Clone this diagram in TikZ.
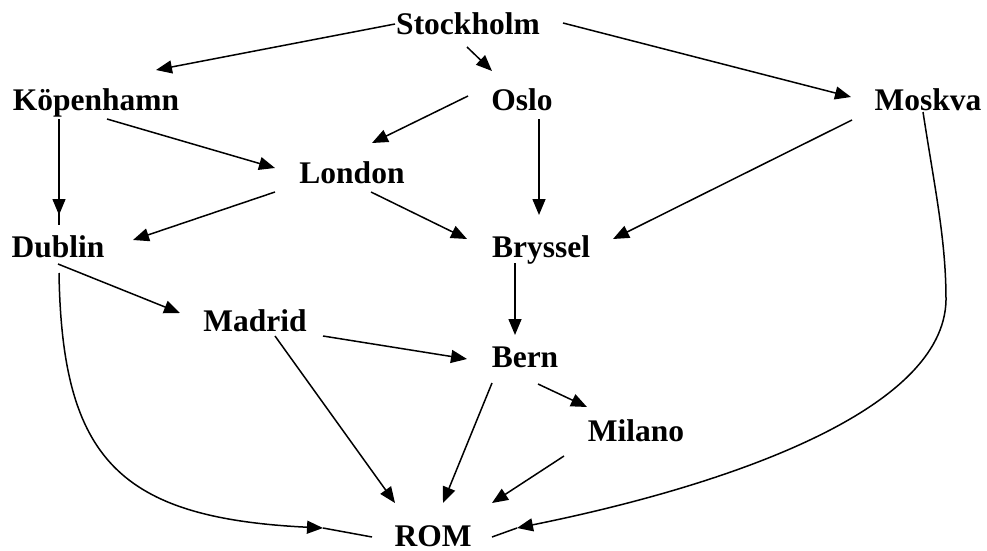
\documentclass[tikz,border=0pt]{standalone}
\usepackage{fontspec}
\setmainfont{Liberation Serif}
\usetikzlibrary{arrows.meta}
\begin{document}
\begin{tikzpicture}[x=1pt,y=-1pt,
  city/.style={inner sep=0pt,anchor=base,font=\fontsize{31.5}{32}\selectfont\bfseries},
  edge/.style={line width=1.5pt},
  arr/.style={edge,-{Triangle[length=16pt,width=13pt]}}]
\useasboundingbox (0,0) rectangle (987,551);
\node[city] (sto) at (468,35) {Stockholm};
\node[city] (kop) at (96,110) {Köpenhamn};
\node[city] (osl) at (522,110) {Oslo};
\node[city] (mos) at (928,110) {Moskva};
\node[city] (lon) at (352,183) {London};
\node[city] (dub) at (58,257) {Dublin};
\node[city] (bry) at (541,257) {Bryssel};
\node[city] (mad) at (255,331) {Madrid};
\node[city] (ber) at (525,367) {Bern};
\node[city] (mil) at (636,441) {Milano};
\node[city] (rom) at (433,546) {ROM};
% straight connectors
\draw[arr] ([shift={(-73,-11)}]sto.base) -- ([shift={(60,-40)}]kop.base);
\draw[arr] ([shift={(-1,12)}]sto.base) -- ([shift={(-30,-39)}]osl.base);
\draw[arr] ([shift={(95,-12)}]sto.base) -- ([shift={(-77,-13)}]mos.base);
\draw[arr] ([shift={(-54,-14)}]osl.base) -- ([shift={(20,-40)}]lon.base);
\draw[arr] ([shift={(11,9)}]kop.base) -- ([shift={(-77,-15)}]lon.base);
\draw[edge] ([shift={(-37,9)}]kop.base) -- ([shift={(1,-32)}]dub.base);
\draw[arr] ([shift={(-37,9)}]kop.base) -- ([shift={(1,-42)}]dub.base);
\draw[arr] ([shift={(-77,9)}]lon.base) -- ([shift={(75,-17)}]dub.base);
\draw[arr] ([shift={(19,9)}]lon.base) -- ([shift={(-74,-18)}]bry.base);
\draw[arr] ([shift={(17,9)}]osl.base) -- ([shift={(-2,-42)}]bry.base);
\draw[arr] ([shift={(-76,10)}]mos.base) -- ([shift={(72,-18)}]bry.base);
\draw[arr] ([shift={(-26,6)}]bry.base) -- ([shift={(-10,-32)}]ber.base);
\draw[arr] ([shift={(0,7)}]dub.base) -- ([shift={(-75,-18)}]mad.base);
\draw[arr] ([shift={(68,5)}]mad.base) -- ([shift={(-58,-8)}]ber.base);
\draw[arr] ([shift={(20,5)}]mad.base) -- ([shift={(-38,-43)}]rom.base);
\draw[arr] ([shift={(-33,16)}]ber.base) -- ([shift={(10,-43)}]rom.base);
\draw[arr] ([shift={(13,17)}]ber.base) -- ([shift={(-49,-34)}]mil.base);
\draw[arr] ([shift={(-72,15)}]mil.base) -- ([shift={(59,-43)}]rom.base);
% curved connectors
\coordinate (mosS) at ([shift={(-5,2)}]mos.base);
\coordinate (mosT) at ([shift={(84,-18)}]rom.base);
\coordinate (mosE) at ([shift={(59,-9)}]rom.base);
\draw[arr] (mosS) .. controls (935,190) and (946,240) .. (946,300)
  .. controls (944,410) and (730,485) .. (mosT);
\draw[edge] (mosT) -- (mosE);
\coordinate (dubS) at ([shift={(1,16)}]dub.base);
\coordinate (dubT) at ([shift={(-110,-18)}]rom.base);
\coordinate (dubE) at ([shift={(-61,-9)}]rom.base);
\draw[arr] (dubS) .. controls (62,460) and (120,518) .. (dubT);
\draw[edge] (dubT) -- (dubE);
\end{tikzpicture}
\end{document}
